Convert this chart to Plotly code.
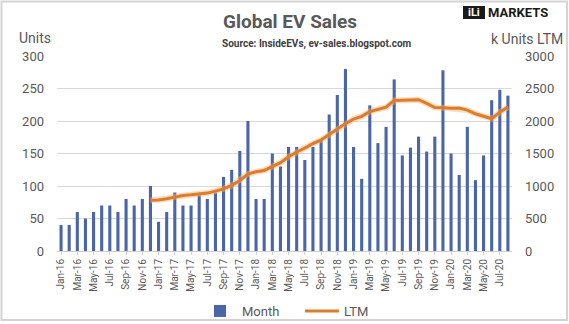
import plotly.graph_objects as go

months = ["Jan", "Feb", "Mar", "Apr", "May", "Jun", "Jul", "Aug", "Sep", "Oct", "Nov", "Dec"]
categories = [f"{m}-{y}" for y in ["16", "17", "18", "19", "20"] for m in months][:56]

monthly_units = [40, 40, 60, 50, 60, 70, 70, 60, 80, 70, 80, 100,
                 45, 60, 90, 70, 70, 86, 80, 90, 114, 125, 154, 200,
                 80, 80, 150, 130, 160, 160, 140, 160, 170, 210, 240, 280,
                 160, 111, 224, 166, 191, 264, 147, 159, 176, 153, 176, 278,
                 150, 117, 191, 109, 147, 232, 248, 239]

ltm_k_units = [None] * 11 + [780,
               785, 805, 835, 855, 865, 881, 891, 921, 955, 1010, 1084, 1184,
               1219, 1239, 1299, 1359, 1449, 1523, 1583, 1653, 1709, 1794, 1880, 1960,
               2030, 2071, 2145, 2181, 2212, 2316, 2323, 2322, 2328, 2271, 2207, 2205,
               2195, 2201, 2168, 2111, 2067, 2035, 2136, 2216]

tick_labels = categories[::2]

GRAY = "#595959"
BAR = "#4A66A8"
ORANGE = "#DE7C2C"

fig = go.Figure()
fig.add_trace(go.Bar(x=categories, y=monthly_units, name="Month",
                     marker=dict(color=BAR, line=dict(width=0)), yaxis="y"))
fig.add_trace(go.Scatter(x=categories, y=ltm_k_units, mode="lines", showlegend=False,
                         line=dict(color="rgba(245,180,110,0.45)", width=6), yaxis="y2",
                         hoverinfo="skip"))
fig.add_trace(go.Scatter(x=categories, y=ltm_k_units, mode="lines", name="LTM",
                         line=dict(color=ORANGE, width=3), yaxis="y2"))

fig.update_layout(
    width=569, height=324,
    margin=dict(l=57, r=57, t=56, b=73, autoexpand=False),
    paper_bgcolor="white", plot_bgcolor="white",
    font=dict(family="Roboto, sans-serif", color=GRAY),
    bargap=0.62,
    showlegend=True,
    legend=dict(orientation="h", x=(198 - 57) / 455, xanchor="left", y=(251 - 311) / 195,
                yanchor="middle", font=dict(size=13, color=GRAY), traceorder="normal",
                itemwidth=34, entrywidth=53, bgcolor="rgba(0,0,0,0)"),
    xaxis=dict(type="category", range=[-0.5, 55.5], tickmode="array",
               tickvals=tick_labels, ticktext=tick_labels, tickangle=-90,
               tickfont=dict(size=10, color=GRAY), showgrid=False,
               showline=True, linecolor="#d0d0d0", linewidth=1,
               ticks="outside", ticklen=3, tickcolor="#d0d0d0", fixedrange=True),
    yaxis=dict(range=[0, 300], tickvals=[0, 50, 100, 150, 200, 250, 300],
               showgrid=True, gridcolor="#d9d9d9", gridwidth=1, zeroline=False,
               tickfont=dict(size=13, color=GRAY), ticklabelstandoff=12),
    yaxis2=dict(range=[0, 3000], overlaying="y", side="right",
                tickvals=[0, 500, 1000, 1500, 2000, 2500, 3000], showgrid=False,
                zeroline=False, tickfont=dict(size=13, color=GRAY), ticklabelstandoff=12),
)

# annotations
fig.add_annotation(text="<b>Global EV Sales</b>", xref="paper", yref="paper",
                   x=(290 - 57) / 455, y=(251 - 22) / 195, showarrow=False,
                   font=dict(size=19, color=GRAY), xanchor="center", yanchor="middle")
fig.add_annotation(text="<b>Source: InsideEVs, ev-sales.blogspot.com</b>", xref="paper", yref="paper",
                   x=(317 - 57) / 455, y=(251 - 44) / 195, showarrow=False,
                   font=dict(size=10, color="#404040"), xanchor="center", yanchor="middle")
fig.add_annotation(text="Units", xref="paper", yref="paper",
                   x=(17 - 57) / 455, y=(251 - 38) / 195, showarrow=False,
                   font=dict(size=14, color=GRAY), xanchor="left", yanchor="middle")
fig.add_annotation(text="k Units LTM", xref="paper", yref="paper",
                   x=(565 - 57) / 455, y=(251 - 39) / 195, showarrow=False,
                   font=dict(size=14, color=GRAY), xanchor="right", yanchor="middle")
# logo
fig.add_shape(type="rect", xref="paper", yref="paper",
              x0=(463 - 57) / 455, x1=(485 - 57) / 455,
              y0=(251 - 19) / 195, y1=(251 - 6) / 195,
              fillcolor="#1a1a1a", line=dict(width=0))
fig.add_annotation(text="<b>iLi</b>", xref="paper", yref="paper",
                   x=(474 - 57) / 455, y=(251 - 12.5) / 195, showarrow=False,
                   font=dict(size=11, color="white"), xanchor="center", yanchor="middle")
fig.add_annotation(text="<b>MARKETS</b>", xref="paper", yref="paper",
                   x=(486 - 57) / 455, y=(251 - 12.5) / 195, showarrow=False,
                   font=dict(size=13, color="#1a1a1a"), xanchor="left", yanchor="middle")
# outer frame
fig.add_shape(type="rect", xref="paper", yref="paper",
              x0=(1.5 - 57) / 455, x1=(567 - 57) / 455,
              y0=(251 - 320) / 195, y1=(251 - 1.5) / 195,
              fillcolor="rgba(0,0,0,0)", line=dict(color="#d4d4d4", width=2))

fig.write_html("out.html")
